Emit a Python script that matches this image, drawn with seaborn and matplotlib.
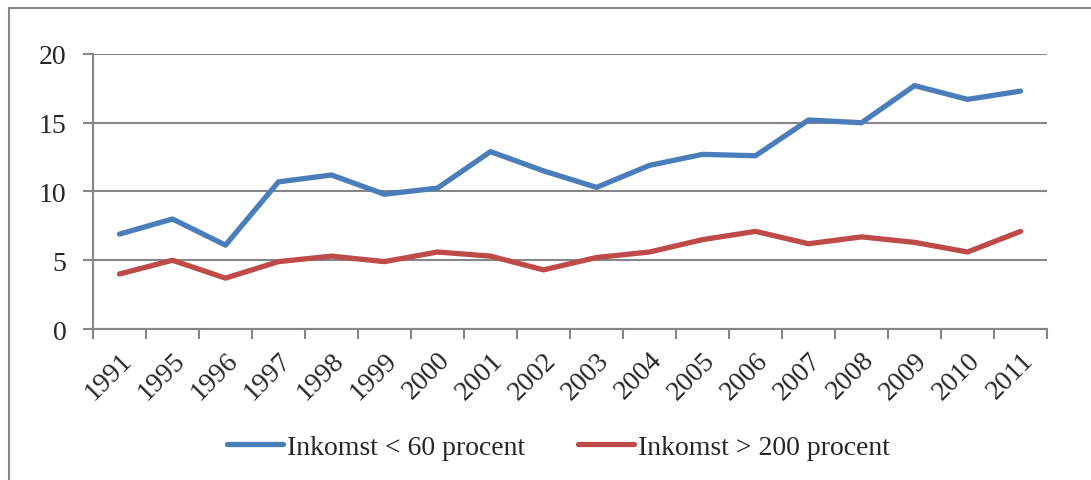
import matplotlib
matplotlib.use("Agg")
import matplotlib.pyplot as plt
import seaborn as sns
import pandas as pd
from matplotlib.patches import Rectangle
from matplotlib.lines import Line2D

years = ["1991", "1995", "1996", "1997", "1998", "1999", "2000", "2001", "2002",
         "2003", "2004", "2005", "2006", "2007", "2008", "2009", "2010", "2011"]
low_income = [6.9, 8.0, 6.1, 10.7, 11.2, 9.8, 10.25, 12.9, 11.5,
              10.3, 11.9, 12.7, 12.6, 15.2, 15.0, 17.7, 16.7, 17.3]
high_income = [4.0, 5.0, 3.7, 4.9, 5.3, 4.9, 5.6, 5.3, 4.3,
               5.2, 5.6, 6.5, 7.1, 6.2, 6.7, 6.3, 5.6, 7.1]
series_names = ["Inkomst < 60 procent", "Inkomst > 200 procent"]
colors = ["#4A7EBB", "#BE4B48"]
yticks = [0, 5, 10, 15, 20]

sns.set_style("white")
plt.rcParams['font.family'] = ['Liberation Serif', 'DejaVu Serif']

df = pd.DataFrame({
    "year": years * 2,
    "value": low_income + high_income,
    "series": [series_names[0]] * len(years) + [series_names[1]] * len(years),
})
df["pos"] = list(range(len(years))) * 2

fig = plt.figure(figsize=(10.91, 4.81), dpi=100)
ax = fig.add_axes([0.0852, 0.3139, 0.8745, 0.5718])

sns.lineplot(data=df, x="pos", y="value", hue="series", palette=colors,
             linewidth=3.8, ax=ax, legend=False, sort=False)

ax.set_xlim(-0.5, len(years) - 0.5)
ax.set_ylim(0, 20)
ax.set_yticks(yticks)
ax.set_yticklabels([str(t) for t in yticks], fontsize=20)
ax.set_xticks(range(len(years)))
ax.set_xticklabels(years, fontsize=20, rotation=45, ha="right", rotation_mode="anchor")
ax.set_xticks([i - 0.5 for i in range(len(years) + 1)], minor=True)
ax.tick_params(axis="x", which="major", bottom=False, length=0, pad=13)
ax.tick_params(axis="x", which="minor", bottom=True, length=7, color="#868686",
               width=1.5, direction="out")
ax.tick_params(axis="y", left=True, length=7, color="#868686", width=1.5,
               direction="out", pad=12)
ax.set_xlabel("")
ax.set_ylabel("")
ax.grid(axis="y", color="#868686", linewidth=1.5)
ax.set_axisbelow(True)
for s in ["top", "right"]:
    ax.spines[s].set_visible(False)
for s in ["left", "bottom"]:
    ax.spines[s].set_color("#868686")
    ax.spines[s].set_linewidth(1.5)

handles = [Line2D([0], [0], color=c, linewidth=3.8) for c in colors]
fig.legend(handles, series_names, loc="center", bbox_to_anchor=(0.512, 0.068),
           ncol=2, frameon=False, fontsize=20, handlelength=2.0, handletextpad=0.15,
           columnspacing=1.9)

fig.patches.append(Rectangle((9 / 1091, -0.1), 1.2, 1 - 9 / 481 + 0.1,
                             transform=fig.transFigure, fill=False,
                             edgecolor="#868686", linewidth=1.5))

fig.savefig("out.png", dpi=100)
